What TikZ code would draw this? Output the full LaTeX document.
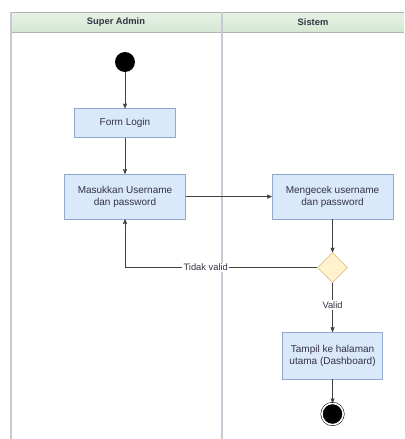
\documentclass[tikz,border=0pt]{standalone}
\usepackage{fontspec}
\setmainfont{Liberation Sans}
\usetikzlibrary{arrows,positioning,shapes.geometric}

\definecolor{boxfill}{HTML}{DAE8FC}
\definecolor{boxline}{HTML}{8FA8CC}
\definecolor{decfill}{HTML}{FFF2CC}
\definecolor{decline}{HTML}{CDB77A}
\definecolor{headfill}{HTML}{D5E8D4}
\definecolor{laneline}{HTML}{C9C9D6}
\definecolor{txt}{HTML}{333344}

\tikzset{
  actbox/.style={rectangle,draw=boxline,fill=boxfill,align=center,text=txt,
    font=\fontsize{7.5}{9}\selectfont,inner sep=2pt},
  decision/.style={diamond,draw=decline,fill=decfill,minimum width=22.5pt,
    minimum height=22.5pt,inner sep=0pt},
  startnode/.style={circle,fill=black,minimum size=15pt,inner sep=0pt},
  endnode/.style={circle,draw=black,double=white,double distance=1.2pt,
    fill=black,minimum size=16pt,inner sep=0pt},
  lbl/.style={fill=white,text=txt,font=\fontsize{7}{8}\selectfont,inner sep=1pt},
  flow/.style={->,draw=black!75},
  lanehead/.style={font=\bfseries\fontsize{7}{8}\selectfont,text=txt}
}

\begin{document}
\begin{tikzpicture}[x=0.75pt,y=-0.75pt,>=stealth']
   \useasboundingbox (0,0) rectangle (404,439);

   % swimlanes
   \shade[top color=headfill!60,bottom color=headfill] (11,12) rectangle (404,32);
   \draw[black!30] (11,12) -- (404,12) (11,32) -- (404,32);
   \draw[laneline,line width=1pt] (11,12) -- (11,439);
   \draw[laneline,line width=0.8pt] (222,12) -- (222,439);
   \node[lanehead] (hadmin)  at (116,22) {Super Admin};
   \node[lanehead] (hsistem) at (313,22) {Sistem};

   % activities
   \node[startnode] (start) at (125,62) {};
   \node[actbox,minimum width=75.75pt,minimum height=21.75pt] (login)
        [below=27pt of start] {Form Login};
   \node[actbox,minimum width=90.75pt,minimum height=33.75pt] (input)
        [below=27pt of login] {Masukkan Username\\dan password};
   \node[actbox,minimum width=90.75pt,minimum height=33.75pt] (cek)
        [right=64.5pt of input] {Mengecek username\\dan password};
   \node[decision] (dec) [below=24.75pt of cek] {};
   \node[actbox,minimum width=75pt,minimum height=35pt] (tampil)
        [below=36.75pt of dec] {Tampil ke halaman\\utama (Dashboard)};
   \node[endnode] (stop) [below=18pt of tampil] {};

   \draw[flow] (start) -- (login);
   \draw[flow] (login) -- (input);
   \draw[flow] (input) -- (cek);
   \draw[flow] (cek) -- (dec);
   \draw[flow] (dec.west) -| node[lbl,pos=0.29] {Tidak valid} (input.south);
   \draw[flow] (dec.south) -- node[lbl,pos=0.45] {Valid} (tampil.north);
   \draw[flow] (tampil) -- (stop);
\end{tikzpicture}
\end{document}
